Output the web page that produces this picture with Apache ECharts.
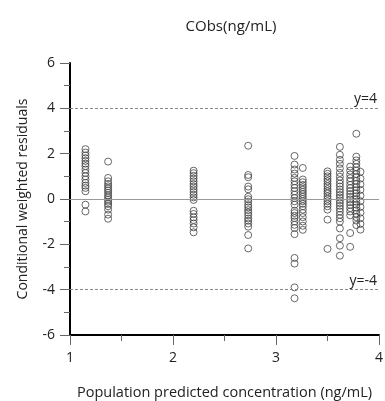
<!DOCTYPE html>
<html>
<head>
<meta charset="utf-8">
<script src="https://cdn.jsdelivr.net/npm/echarts@6/dist/echarts.min.js"></script>
<style>
  html, body { margin: 0; padding: 0; background: #fff; }
  #chart { width: 385px; height: 401px; }
</style>
</head>
<body>
<div id="chart"></div>
<script>
// Population predicted concentration for each group of observations
const predGroups = [1.15, 1.37, 2.2, 2.73, 3.18, 3.26, 3.5, 3.62, 3.72, 3.78, 3.82];

// Conditional weighted residuals observed in each group
const cwres115 = [2.2, 2.05, 1.92, 1.8, 1.68, 1.56, 1.45, 1.3, 1.15, 1.0, 0.86, 0.71, 0.59, 0.49, 0.34, -0.25, -0.55];
const cwres137 = [1.65, 0.93, 0.78, 0.66, 0.56, 0.46, 0.37, 0.27, 0.16, 0.07, -0.03, -0.12, -0.22, -0.32, -0.47, -0.69, -0.87];
const cwres220 = [1.25, 1.14, 1.02, 0.9, 0.78, 0.66, 0.55, 0.43, 0.31, 0.19, 0.07, -0.04, -0.52, -0.66, -0.81, -0.93, -1.08, -1.25, -1.47];
const cwres273 = [2.35, 1.06, 0.96, 0.55, 0.43, 0.1, -0.01, -0.12, -0.27, -0.37, -0.49, -0.6, -0.72, -0.86, -0.96, -1.08, -1.22, -1.59, -2.18];
const cwres318 = [1.9, 1.52, 1.3, 1.12, 0.93, 0.78, 0.63, 0.49, 0.34, 0.19, 0.04, -0.1, -0.25, -0.52, -0.62, -0.74, -0.84, -0.99, -1.14, -1.28, -1.55, -2.6, -2.85, -3.9, -4.38];
const cwres326 = [1.37, 0.86, 0.74, 0.62, 0.52, 0.41, 0.31, 0.21, 0.1, 0.0, -0.1, -0.21, -0.32, -0.47, -0.62, -0.8, -0.99, -1.18, -1.36];
const cwres350 = [1.22, 1.11, 1.0, 0.88, 0.78, 0.66, 0.56, 0.44, 0.34, 0.24, 0.12, 0.01, -0.1, -0.21, -0.32, -0.47, -0.91, -2.2];
const cwres362 = [2.3, 1.95, 1.73, 1.55, 1.35, 1.15, 0.98, 0.82, 0.68, 0.55, 0.42, 0.3, 0.18, 0.06, -0.06, -0.18, -0.3, -0.42, -0.55, -0.7, -0.85, -1.0, -1.3, -1.73, -2.06, -2.5];
const cwres372 = [1.43, 1.25, 1.08, 0.92, 0.78, 0.62, 0.48, 0.35, 0.22, 0.1, -0.02, -0.14, -0.26, -0.4, -0.55, -0.72, -1.5, -2.11];
const cwres378 = [2.88, 1.87, 1.7, 1.55, 1.4, 1.25, 1.1, 0.95, 0.8, 0.66, 0.52, 0.38, 0.25, 0.12, 0.0, -0.12, -0.25, -0.38, -0.5, -0.65, -0.8, -0.95, -1.15];
const cwres382 = [1.2, 0.9, 0.65, 0.4, 0.15, -0.1, -0.35, -0.6, -0.85, -1.1, -1.35];

const residualGroups = [cwres115, cwres137, cwres220, cwres273, cwres318, cwres326, cwres350, cwres362, cwres372, cwres378, cwres382];

// Axis ticks and reference levels
const yTicks = [-6, -4, -2, 0, 2, 4, 6];
const xTicks = [1, 2, 3, 4];
const refLevels = [4, -4];

const points = [];
predGroups.forEach((x, i) => {
  residualGroups[i].forEach(y => points.push([x, y]));
});

const chart = echarts.init(document.getElementById('chart'));
const font = 'Open Sans, "Noto Sans", sans-serif';

chart.setOption({
  animation: false,
  title: {
    text: 'CObs(ng/mL)',
    left: 226,
    top: 14,
    textAlign: 'center',
    textStyle: { fontFamily: font, fontSize: 15, fontWeight: 'normal', color: '#222' }
  },
  grid: { left: 70, right: 6, top: 63, bottom: 66, outerBoundsMode: 'none', containLabel: false },
  xAxis: {
    type: 'value',
    min: xTicks[0],
    max: xTicks[xTicks.length - 1],
    interval: 1,
    name: 'Population predicted concentration (ng/mL)',
    nameLocation: 'middle',
    nameGap: 50,
    nameTextStyle: { fontFamily: font, fontSize: 14.5, color: '#222' },
    axisLine: { onZero: false, lineStyle: { color: '#000', width: 2 } },
    axisTick: { length: 10, lineStyle: { color: '#666' } },
    minorTick: { show: true, splitNumber: 2, length: 6, lineStyle: { color: '#666' } },
    axisLabel: { fontFamily: font, fontSize: 14, color: '#222', margin: 16 },
    splitLine: { show: false }
  },
  yAxis: {
    type: 'value',
    min: yTicks[0],
    max: yTicks[yTicks.length - 1],
    interval: 2,
    name: 'Conditional weighted residuals',
    nameLocation: 'middle',
    nameGap: 40,
    nameTextStyle: { fontFamily: font, fontSize: 14, color: '#222' },
    axisLine: { onZero: false, lineStyle: { color: '#000', width: 2 } },
    axisTick: { length: 10, lineStyle: { color: '#666' } },
    minorTick: { show: true, splitNumber: 2, length: 6, lineStyle: { color: '#666' } },
    axisLabel: { fontFamily: font, fontSize: 14, color: '#222', margin: 15 },
    splitLine: { show: false }
  },
  series: [{
    type: 'scatter',
    data: points,
    symbol: 'circle',
    symbolSize: 7,
    itemStyle: { color: 'rgba(0,0,0,0)', borderColor: '#444', borderWidth: 1 },
    markLine: {
      silent: true,
      symbol: ['none', 'none'],
      data: [
        { yAxis: 0, lineStyle: { type: 'solid', color: '#999', width: 1 }, label: { show: false } },
        ...refLevels.map(v => ({
          yAxis: v,
          lineStyle: { type: [3, 2], color: '#888', width: 1 },
          label: {
            show: true,
            formatter: 'y=' + v,
            position: 'insideEndTop',
            distance: [2, 2],
            fontFamily: font,
            fontSize: 14,
            color: '#222'
          }
        }))
      ]
    },
    z: 3
  }]
});
</script>
</body>
</html>
